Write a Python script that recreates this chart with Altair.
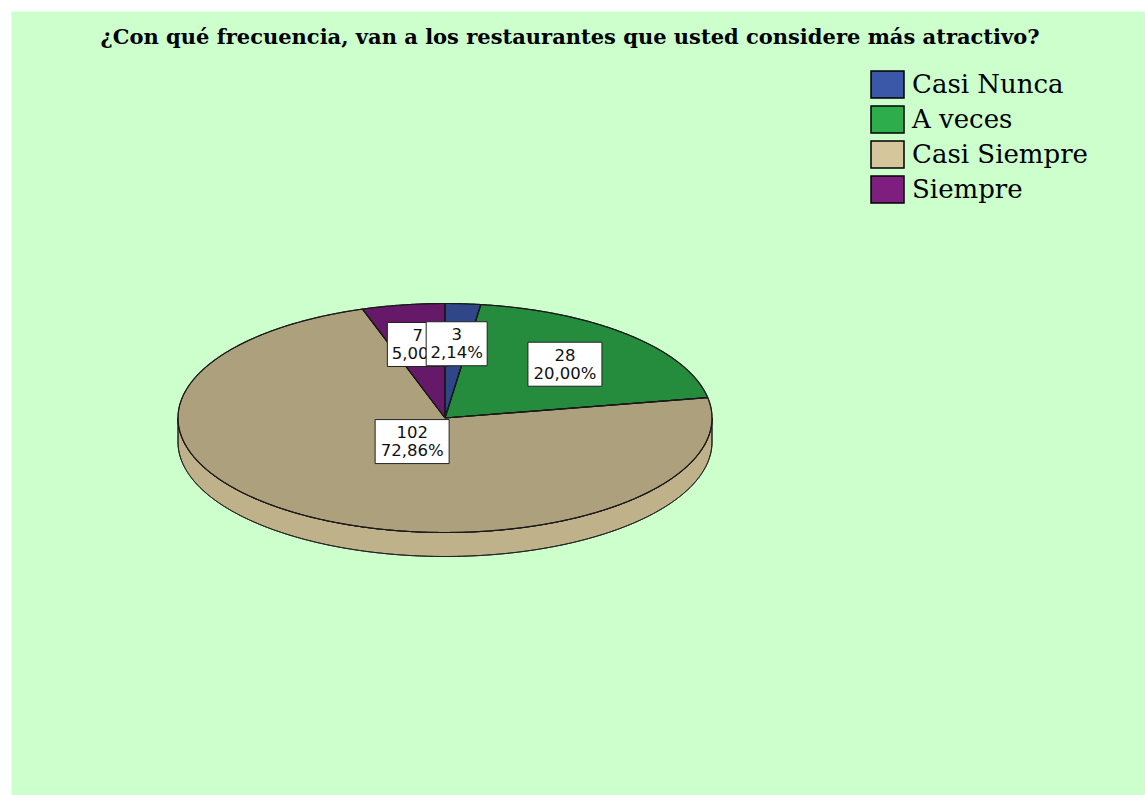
import math
import altair as alt
import pandas as pd

# ---- data ----
categories = ["Casi Nunca", "A veces", "Casi Siempre", "Siempre"]
counts = [3, 28, 102, 7]
colors = ["#3B57A8", "#2EAD4C", "#D5C79B", "#7E1F80"]
title_text = "¿Con qué frecuencia, van a los restaurantes que usted considere más atractivo?"

# ---- layout (pixels) ----
W, H = 1134, 784          # view size
CX, CY = 434, 407         # pie centre inside the view
A, B = 267.0, 114.5       # ellipse semi-axes
DEPTH = 24.0 / B          # thickness of the 3D pie in y units

total = sum(counts)
top_rows, side_rows, label_rows = [], [], []


def arc(a0, a1, dy=0.0, step=0.5):
    n = max(2, int(math.ceil(abs(a1 - a0) / step)))
    out = []
    for k in range(n + 1):
        t = math.radians(a0 + (a1 - a0) * k / n)
        out.append((math.sin(t), math.cos(t) - dy))
    return out


start = 0.0
for cat, n in zip(categories, counts):
    share = n / total
    end = start + 360.0 * share
    pts = [(0.0, 0.0)] + arc(start, end) + [(0.0, 0.0)]
    for i, (x, y) in enumerate(pts):
        top_rows.append({"cat": cat, "x": x, "y": y, "o": i})
    s, e = max(start, 90.0), min(end, 270.0)
    if e > s:
        ring = arc(s, e) + arc(e, s, DEPTH)
        ring.append(ring[0])
        for i, (x, y) in enumerate(ring):
            side_rows.append({"cat": cat, "x": x, "y": y, "o": i})
    mid = math.radians((start + end) / 2)
    r = 0.65 if share < 0.5 else 0.24
    pct = f"{share * 100:.2f}".replace(".", ",") + "%"
    lx, ly = r * math.sin(mid), r * math.cos(mid)
    half_w = (13 * max(len(str(n)), len(pct)) - 4) / 2.0
    label_rows.append({
        "cat": cat, "lx": lx, "ly": ly, "text": f"{n}\n{pct}",
        "x1": lx - half_w / A, "x2": lx + half_w / A,
        "y1": ly - 22.0 / B, "y2": ly + 22.0 / B,
    })
    start = end

top_df = pd.DataFrame(top_rows)
side_df = pd.DataFrame(side_rows)
label_df = pd.DataFrame(label_rows)

xscale = alt.Scale(domain=[-CX / A, (W - CX) / A], nice=False, zero=False)
yscale = alt.Scale(domain=[-(H - CY) / B, CY / B], nice=False, zero=False)

legend = alt.Legend(
    title=None, orient="none", legendX=859, legendY=56, padding=0,
    labelFont="DejaVu Serif", labelFontSize=26, labelColor="black",
    symbolType="M-1,-0.82H1V0.82H-1Z", symbolSize=1089,
    symbolStrokeColor="black", symbolStrokeWidth=1.5,
    rowPadding=0, labelOffset=7, labelLimit=400,
)
fill_enc = alt.Fill("cat:N", scale=alt.Scale(domain=categories, range=colors), legend=legend)


def poly(df):
    return alt.Chart(df).encode(
        x=alt.X("x:Q", scale=xscale, axis=None),
        y=alt.Y("y:Q", scale=yscale, axis=None),
        order="o:Q",
    )


side = poly(side_df).mark_line(stroke="#222222", strokeWidth=1, strokeJoin="round").encode(fill=fill_enc)
side_shade = poly(side_df).mark_line(fill="black", fillOpacity=0.1, stroke="#222222", strokeWidth=1,
                                     strokeJoin="round").encode(detail="cat:N")
top = poly(top_df).mark_line(stroke="#222222", strokeWidth=1, strokeJoin="round").encode(fill=fill_enc)
top_shade = poly(top_df).mark_line(fill="black", fillOpacity=0.19, stroke="#1a1a1a", strokeWidth=1.2,
                                   strokeJoin="round").encode(detail="cat:N")

layers = [side, side_shade, top, top_shade]
for cat in reversed(categories):
    base = alt.Chart(label_df).transform_filter(alt.datum.cat == cat)
    box = base.mark_rect(fill="white", stroke="#222222", strokeWidth=1).encode(
        x=alt.X("x1:Q", scale=xscale, axis=None), x2="x2:Q",
        y=alt.Y("y1:Q", scale=yscale, axis=None), y2="y2:Q",
    )
    txt = base.mark_text(font="DejaVu Sans", fontSize=16.5, lineBreak="\n", lineHeight=18, dy=-8.5,
                         color="#111111", align="center", baseline="middle").encode(
        x=alt.X("lx:Q", scale=xscale, axis=None),
        y=alt.Y("ly:Q", scale=yscale, axis=None),
        text="text:N",
    )
    layers += [box, txt]

chart = alt.layer(*layers).properties(
    width=W, height=H,
    autosize="none",
    padding={"left": 11, "top": 11, "right": 0, "bottom": 0},
    background="white",
    title=alt.TitleParams(
        text=title_text, font="DejaVu Serif", fontSize=21, fontWeight="bold",
        color="black", anchor="middle", baseline="alphabetic", offset=-54, dx=-8, frame="group",
    ),
).configure_view(fill="#CCFFCC", stroke="transparent")

chart.save("out.html", embed_options={"renderer": "svg", "actions": False})
